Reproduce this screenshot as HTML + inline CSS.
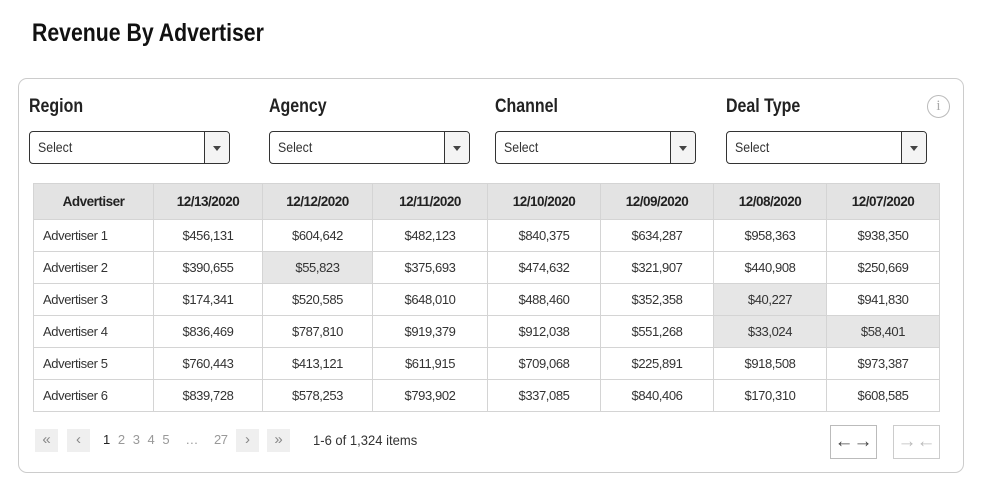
<!DOCTYPE html>
<html><head><meta charset="utf-8"><style>
*{box-sizing:border-box;margin:0;padding:0}
body{width:981px;height:492px;background:#fff;position:relative;font-family:"Liberation Sans",sans-serif;color:#222;overflow:hidden}
.a{position:absolute}
.sx{transform:scaleX(.84);transform-origin:left center;white-space:nowrap}
h1{position:absolute;left:32px;top:19px;font-size:25px;font-weight:bold;color:#111;transform:scaleX(.85);transform-origin:left center;white-space:nowrap}
.card{left:18px;top:78px;width:946px;height:395px;border:1px solid #ccc;border-radius:9px}
.lbl{font-size:19px;font-weight:bold;top:96px}
.sel{top:131px;height:33px;width:201px;border:1px solid #333;border-radius:4px;font-size:14px;color:#333;padding:7px 0 0 8px}
.sel span{display:inline-block;transform:scaleX(.88);transform-origin:left}
.sel .ar{position:absolute;right:0;top:0;width:25px;height:31px;border-left:1px solid #333;background:#f4f4f4;border-radius:0 3px 3px 0}
.sel .ar:after{content:"";position:absolute;left:8px;top:14px;border-left:4px solid transparent;border-right:4px solid transparent;border-top:5px solid #444}
table{position:absolute;left:33px;top:183px;border-collapse:collapse;font-size:13px;color:#333;letter-spacing:-0.4px}
td,th{border:1px solid #d4d4d4;height:32px;text-align:center;padding:0}
th{background:#e3e3e3;height:36px;font-weight:bold;color:#222;font-size:13.5px;letter-spacing:-0.5px}
td.n{text-align:left;padding-left:9px}
td.h{background:#e6e6e6}
.pb{top:429px;width:23px;height:23px;background:#efefef;color:#888;font-size:15px;text-align:center;line-height:22px}
.rb{top:425px;width:47px;height:34px;border:1px solid #bbb;font-size:19px;text-align:center;line-height:31px}
</style></head><body>
<h1>Revenue By Advertiser</h1>
<div class="a card"></div>
<div class="a lbl sx" style="left:29px">Region</div>
<div class="a lbl sx" style="left:269px">Agency</div>
<div class="a lbl sx" style="left:495px">Channel</div>
<div class="a lbl sx" style="left:726px">Deal Type</div>
<div class="a" style="left:927px;top:95px;width:23px;height:23px;border:1.5px solid #bbb;border-radius:50%;color:#aaa;font-size:15px;text-align:center;line-height:20px;font-family:'Liberation Serif',serif">i</div>
<div class="a sel" style="left:29px"><span>Select</span><div class="ar"></div></div>
<div class="a sel" style="left:269px"><span>Select</span><div class="ar"></div></div>
<div class="a sel" style="left:495px"><span>Select</span><div class="ar"></div></div>
<div class="a sel" style="left:726px"><span>Select</span><div class="ar"></div></div>
<table>
<colgroup><col style="width:120px"><col style="width:109px"><col style="width:110px"><col style="width:115px"><col style="width:113px"><col style="width:113px"><col style="width:113px"><col style="width:113px"></colgroup>
<tr><th>Advertiser</th><th>12/13/2020</th><th>12/12/2020</th><th>12/11/2020</th><th>12/10/2020</th><th>12/09/2020</th><th>12/08/2020</th><th>12/07/2020</th></tr>
<tr><td class="n">Advertiser 1</td><td>$456,131</td><td>$604,642</td><td>$482,123</td><td>$840,375</td><td>$634,287</td><td>$958,363</td><td>$938,350</td></tr>
<tr><td class="n">Advertiser 2</td><td>$390,655</td><td class="h">$55,823</td><td>$375,693</td><td>$474,632</td><td>$321,907</td><td>$440,908</td><td>$250,669</td></tr>
<tr><td class="n">Advertiser 3</td><td>$174,341</td><td>$520,585</td><td>$648,010</td><td>$488,460</td><td>$352,358</td><td class="h">$40,227</td><td>$941,830</td></tr>
<tr><td class="n">Advertiser 4</td><td>$836,469</td><td>$787,810</td><td>$919,379</td><td>$912,038</td><td>$551,268</td><td class="h">$33,024</td><td class="h">$58,401</td></tr>
<tr><td class="n">Advertiser 5</td><td>$760,443</td><td>$413,121</td><td>$611,915</td><td>$709,068</td><td>$225,891</td><td>$918,508</td><td>$973,387</td></tr>
<tr><td class="n">Advertiser 6</td><td>$839,728</td><td>$578,253</td><td>$793,902</td><td>$337,085</td><td>$840,406</td><td>$170,310</td><td>$608,585</td></tr>
</table>
<div class="a pb" style="left:35px">«</div>
<div class="a pb" style="left:67px">‹</div>
<div class="a" style="left:103px;top:432px;font-size:13px;color:#999;letter-spacing:-0.5px;word-spacing:5px"><b style="color:#222;font-weight:normal">1</b> 2 3 4 5 &nbsp;… &nbsp;27</div>
<div class="a pb" style="left:236px">›</div>
<div class="a pb" style="left:267px">»</div>
<div class="a" style="left:313px;top:432px;font-size:14px;color:#333;transform:scaleX(.93);transform-origin:left center;white-space:nowrap">1-6 of 1,324 items</div>
<div class="a rb" style="left:830px;color:#444">←→</div>
<div class="a rb" style="left:893px;color:#bbb;border-color:#ccc">→←</div>
</body></html>
